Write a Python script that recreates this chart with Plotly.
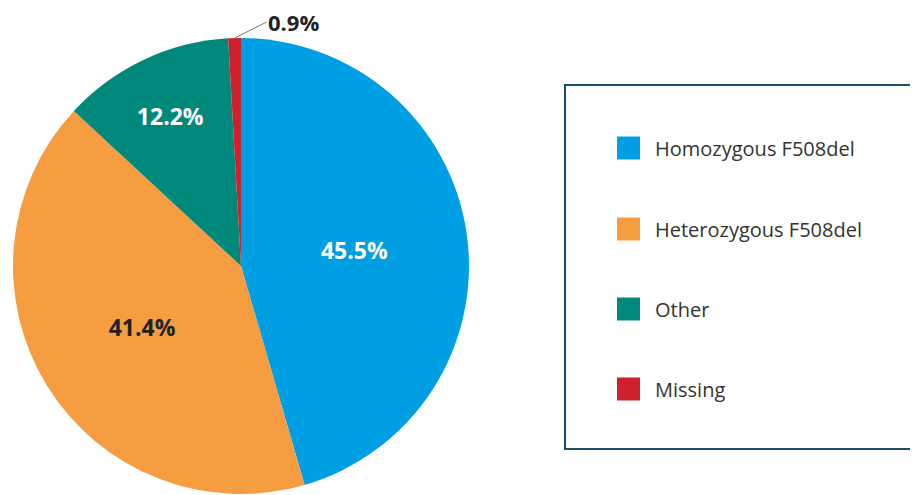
import math
import plotly.graph_objects as go

labels = ["Homozygous F508del", "Heterozygous F508del", "Other", "Missing"]
values = [45.5, 41.4, 12.2, 0.9]
colors = ["#009FE3", "#F69D41", "#00897B", "#CE202D"]
text_colors = ["#FFFFFF", "#222222", "#FFFFFF", "#222222"]

W, H = 918, 495
OFF = 8  # page body margin offset
# pie placement in pixels (page coordinates minus offset)
px0, px1, py_top, py_bot = 12 - OFF, 470 - OFF, 38 - OFF, 494 - OFF

fig = go.Figure()
fig.add_trace(go.Pie(
    labels=labels,
    values=values,
    sort=False,
    direction="clockwise",
    rotation=0,
    marker=dict(colors=colors, line=dict(width=0)),
    texttemplate=["%{percent:.1%}", "%{percent:.1%}", "%{percent:.1%}", ""],
    textposition="inside",
    insidetextorientation="horizontal",
    textfont=dict(family="Open Sans", size=23, color=text_colors, weight="bold"),
    domain=dict(x=[px0 / W, px1 / W], y=[1 - py_bot / H, 1 - py_top / H]),
    showlegend=False,
    hoverinfo="label+percent",
))

# small-slice label with leader line, derived from the data
cx, cy = (px0 + px1) / 2, (py_top + py_bot) / 2
r = min(px1 - px0, py_bot - py_top) / 2
total = sum(values)
start = sum(values[:-1]) / total
mid = start + values[-1] / total / 2
ang = 2 * math.pi * mid
tipx = cx + r * math.sin(ang)
tipy = cy - r * math.cos(ang)
fig.add_annotation(
    x=tipx / W, y=1 - tipy / H, xref="paper", yref="paper",
    ax=32, ay=-16, axref="pixel", ayref="pixel",
    text=f"<b>{values[-1]:.1f}%</b>", showarrow=True, arrowhead=0,
    arrowwidth=1, arrowcolor="#777777", xanchor="left",
    borderpad=0,
    font=dict(family="Open Sans", size=22, color="#222222"),
)

# legend box
box = dict(x0=565 - OFF, x1=940, y0=85 - OFF, y1=449 - OFF)
fig.add_shape(type="rect", xref="paper", yref="paper",
              x0=box["x0"] / W, x1=box["x1"] / W,
              y0=1 - box["y1"] / H, y1=1 - box["y0"] / H,
              line=dict(color="#1F4E6D", width=2), fillcolor="rgba(0,0,0,0)")
leg_y = [148 - OFF, 229 - OFF, 309 - OFF, 389 - OFF]
sq = 23
sqx = 617 - OFF
txx = 653 - OFF
for lab, col, yy in zip(labels, colors, leg_y):
    fig.add_shape(type="rect", xref="paper", yref="paper",
                  x0=sqx / W, x1=(sqx + sq) / W,
                  y0=1 - (yy + sq / 2) / H, y1=1 - (yy - sq / 2) / H,
                  line=dict(width=0), fillcolor=col)
    fig.add_annotation(x=txx / W, y=1 - yy / H, xref="paper", yref="paper",
                       text=lab, showarrow=False, xanchor="left", yanchor="middle",
                       font=dict(family="Open Sans", size=20, color="#333333"))

fig.update_layout(
    width=W, height=H,
    margin=dict(l=0, r=0, t=0, b=0),
    paper_bgcolor="white", plot_bgcolor="white",
    font=dict(family="Open Sans"),
)
fig.write_html("out.html")
